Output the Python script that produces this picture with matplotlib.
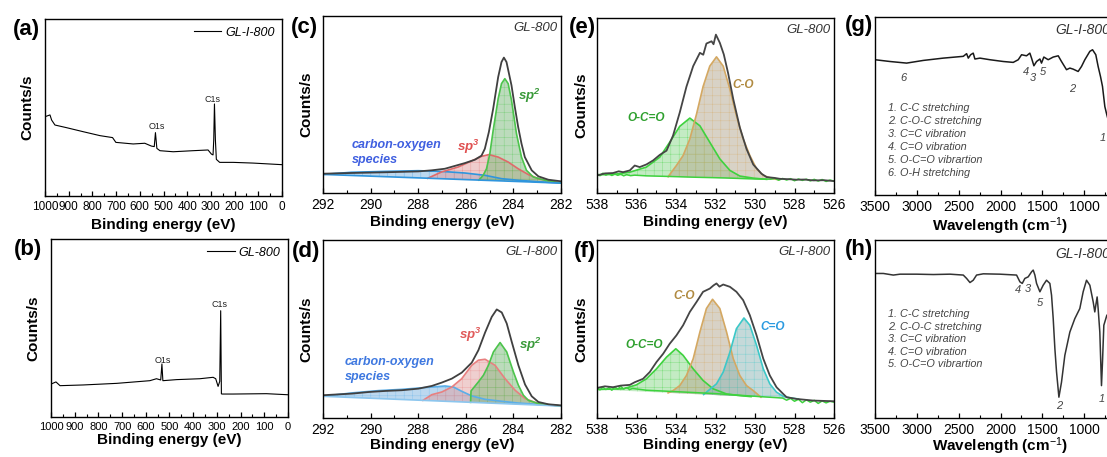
import matplotlib
matplotlib.use('Agg')
import matplotlib.pyplot as plt
from matplotlib.ticker import MultipleLocator

plt.rcParams['font.family'] = ['Liberation Sans', 'DejaVu Sans']
plt.rcParams['mathtext.fontset'] = 'custom'
plt.rcParams['mathtext.rm'] = 'Liberation Sans'
plt.rcParams['mathtext.it'] = 'Liberation Sans:italic'
plt.rcParams['mathtext.bf'] = 'Liberation Sans:bold'
plt.rcParams['mathtext.bfit'] = 'Liberation Sans:italic:bold'
plt.rcParams['hatch.linewidth'] = 0.35

W, H = 1107, 457

# ---------- (a) survey GL-I-800 ----------
a_x = [1000, 979, 972, 958, 909, 838, 768, 715, 701, 628, 579, 551, 539, 534, 528, 515,
       459, 375, 312, 298, 291, 288, 285, 281, 277, 263, 206, 122, 0]
a_y = [44.8, 45.8, 42.9, 40.1, 38.6, 36.3, 34.1, 33.0, 30.3, 29.4, 29.8, 28.2, 27.9, 35.8, 26.9, 25.6,
       25.0, 25.6, 26.0, 23.7, 23.2, 31.6, 52.0, 31.6, 20.7, 19.0, 19.0, 18.6, 17.7]

# ---------- (b) survey GL-800 ----------
b_x = [1000, 979, 962, 864, 723, 583, 555, 537, 532, 528, 470, 372, 316, 305, 295, 288, 284,
       281, 277, 232, 91, 0]
b_y = [18.5, 19.7, 17.6, 18.0, 18.9, 20.4, 21.5, 20.8, 29.8, 20.4, 21.0, 21.5, 22.3, 21.5, 17.2,
       20.0, 59.7, 13.0, 12.9, 12.9, 13.1, 12.5]

# ---------- (c) C1s GL-800 ----------
c_env_x = [292.0, 290.81, 289.41, 288.0, 287.44, 286.88, 286.46, 286.04, 285.62, 285.34, 285.2, 285.03,
           284.85, 284.64, 284.5, 284.4, 284.29, 284.08, 283.94, 283.8, 283.66, 283.52, 283.23, 282.95,
           282.53, 282.0]
c_env_y = [10.9, 11.3, 11.7, 12.2, 12.8, 13.7, 15.3, 16.9, 18.8, 21.1, 25.0, 34.5,
           47.6, 65.5, 74.0, 76.5, 74.0, 60.8, 48.6, 37.3, 27.9, 20.3, 12.8, 9.4,
           7.5, 6.6]
c_sp2_x = [285.45, 285.27, 285.13, 284.99, 284.85, 284.64, 284.5, 284.36, 284.22, 284.08, 283.87,
           283.66, 283.45, 283.16, 282.67, 282.0]
c_sp2_y = [7.3, 10.0, 13.7, 22.2, 35.4, 53.3, 61.8, 64.6, 61.8, 52.4, 33.5, 20.3, 12.8, 9.0, 7.2, 5.6]
c_sp3_x = [287.6, 287.02, 286.32, 285.76, 285.34, 285.03, 284.64, 284.22, 283.8, 283.37, 282.95,
           282.39, 282.0]
c_sp3_y = [8.3, 11.9, 14.7, 18.1, 20.7, 21.7, 20.3, 17.5, 13.7, 10.4, 8.1, 6.6, 5.6]
c_co_x = [292.0, 291.5, 290.81, 289.41, 288.0, 287.02, 286.04, 285.2, 284.5, 283.8, 283.0, 282.0]
c_co_y = [10.5, 11.0, 11.7, 12.2, 12.6, 12.2, 11.3, 10.0, 8.1, 7.2, 6.4, 5.6]
c_base_x = [292.0, 282.0]
c_base_y = [10.5, 5.6]

# ---------- (d) C1s GL-I-800 ----------
d_env_x = [292.0, 290.78, 290.08, 289.38, 288.69, 287.99, 287.43, 287.01, 286.59, 286.17, 285.75,
           285.47, 285.19, 284.91, 284.7, 284.49, 284.28, 284.07, 283.79, 283.51, 283.23, 282.95,
           282.53, 282.0]
d_env_y = [12.8, 13.7, 14.6, 15.2, 15.6, 16.5, 18.0, 19.9, 22.1, 25.5, 31.1,
           38.1, 48.0, 56.8, 61.0, 59.3, 53.1, 42.8, 29.6, 18.8, 12.2, 9.0,
           7.7, 7.1]
d_sp2_x = [285.8, 285.78, 285.47, 285.26, 285.05, 284.84, 284.56, 284.28, 284.0, 283.79, 283.58,
           283.37, 282.95, 282.0]
d_sp2_y = [8.8, 15.2, 20.3, 24.0, 29.6, 37.1, 42.4, 37.1, 25.9, 18.4, 12.8, 9.9, 8.1, 6.75]
d_sp3_x = [287.8, 287.43, 287.01, 286.59, 286.17, 285.75, 285.47, 285.19, 284.77, 284.35, 283.93,
           283.51, 282.95, 282.0]
d_sp3_y = [9.9, 13.1, 14.6, 17.4, 22.1, 29.6, 32.5, 33.0, 29.6, 22.1, 15.6, 10.9, 8.1, 6.75]
d_co_x = [292.0, 290.78, 289.66, 288.69, 287.71, 286.87, 286.52, 286.17, 285.75, 285.19, 284.49,
          283.79, 282.0]
d_co_y = [12.2, 14.1, 15.4, 16.1, 17.1, 18.0, 17.4, 15.0, 12.4, 10.5, 9.4, 8.4, 6.75]
d_base_x = [292.0, 282.0]
d_base_y = [12.2, 6.75]

# ---------- (e) O1s GL-800 ----------
e_env_x = [538.0, 537.6, 537.19, 536.9, 536.68, 536.34, 536.09, 535.84, 535.5, 535.16, 534.82,
           534.48, 534.15, 533.81, 533.47, 533.13, 532.79, 532.62, 532.46, 532.2, 532.1, 531.98,
           531.78, 531.58, 531.36, 531.1, 530.77, 530.43, 530.09, 529.67, 529.41, 529.0, 528.74,
           528.3, 527.89, 527.5, 527.05, 526.5, 526.0]
e_env_y = [10.0, 11.2, 11.4, 12.4, 11.9, 12.9, 15.7, 14.8, 16.3, 18.6, 21.8,
           24.2, 32.8, 46.0, 60.8, 72.5, 80.1, 79.0, 85.4, 86.7, 85.0, 90.5,
           85.8, 79.2, 68.4, 53.6, 37.5, 25.2, 16.3, 11.0, 9.1, 8.6, 8.1,
           7.9, 7.6, 7.7, 7.2, 7.3, 6.8]
e_c_o_x = [534.4, 533.98, 533.64, 533.3, 532.96, 532.63, 532.29, 531.95, 531.61, 531.27, 530.94,
           530.6, 530.26, 529.92, 529.58, 529.08, 528.8]
e_c_o_y = [9.3, 15.7, 21.4, 30.9, 45.1, 60.8, 72.5, 77.8, 72.5, 59.3, 44.1,
           30.9, 21.4, 13.8, 10.0, 8.1, 7.6]
e_oco_x = [538.0, 537.19, 536.34, 535.5, 534.82, 534.32, 533.81, 533.3, 532.79, 532.29, 531.78,
           531.27, 530.77, 530.09, 529.41]
e_oco_y = [10.4, 10.6, 11.9, 14.8, 20.5, 29.0, 38.1, 42.8, 38.4, 29.0, 19.5,
           12.9, 9.7, 8.5, 7.8]
e_bg_x = [538.0, 537.85, 537.7, 537.55, 537.4, 537.25, 537.1, 536.95, 536.8, 536.65, 536.5, 536.3,
          536.1, 535.5, 534.5, 533.0, 531.5, 530.0, 529.2, 529.0, 528.8, 528.6, 528.4, 528.2, 528.0,
          527.8, 527.6, 527.4, 527.2, 527.0, 526.8, 526.6, 526.4, 526.2, 526.0]
e_bg_y = [11.0, 9.9, 11.3, 10.2, 11.1, 10.0, 10.9, 10.1, 10.8, 9.8, 10.5, 9.9,
          10.2, 9.8, 9.5, 9.0, 8.6, 8.0, 7.9, 8.4, 7.3, 8.3, 7.4, 8.2, 7.0,
          8.0, 7.2, 7.9, 6.9, 7.8, 6.8, 7.7, 6.6, 7.4, 6.8]

# ---------- (f) O1s GL-I-800 ----------
f_env_x = [538.0, 537.6, 537.19, 536.8, 536.34, 536.09, 535.67, 535.33, 534.99, 534.65, 534.32,
           533.98, 533.64, 533.3, 532.96, 532.63, 532.29, 532.1, 531.95, 531.8, 531.61, 531.27,
           530.94, 530.6, 530.26, 529.92, 529.58, 529.25, 528.91, 528.57, 528.4, 527.89, 527.05, 526.0]
f_env_y = [16.9, 17.8, 17.3, 18.2, 18.6, 20.1, 22.0, 25.8, 31.4, 36.1, 41.7,
           46.4, 52.1, 59.6, 65.2, 70.9, 72.7, 74.5, 75.6, 73.8, 75.0, 73.7,
           70.9, 66.2, 57.7, 46.4, 33.3, 23.9, 17.3, 13.5, 11.7, 10.7, 9.8, 9.4]
f_c_o_x = [534.4, 534.15, 533.81, 533.47, 533.13, 532.79, 532.46, 532.15, 531.78, 531.44, 531.1,
           530.77, 530.43, 530.09, 529.7]
f_c_o_y = [14.1, 15.4, 18.2, 23.9, 33.3, 48.3, 61.5, 66.7, 61.5, 48.3, 33.3,
           23.9, 18.2, 15.4, 11.7]
f_ceo_x = [532.6, 531.95, 531.61, 531.27, 530.94, 530.56, 530.26, 529.92, 529.58, 529.25, 528.91,
           528.57, 528.23, 527.8]
f_ceo_y = [13.2, 19.2, 25.8, 37.0, 50.2, 56.2, 52.1, 40.8, 27.6, 19.2, 14.5,
           12.2, 11.3, 10.7]
f_oco_x = [538.0, 536.68, 536.01, 535.5, 534.99, 534.48, 534.01, 533.64, 533.13, 532.63, 532.12,
           531.44, 530.77, 530.2]
f_oco_y = [16.0, 16.4, 18.6, 22.0, 27.6, 34.2, 38.9, 35.2, 27.6, 21.1, 16.4,
           13.5, 12.6, 12.0]
f_bg_x = [538.0, 537.85, 537.7, 537.55, 537.4, 537.25, 537.1, 536.95, 536.8, 536.65, 536.5, 536.35,
          536.2, 535.5, 534.0, 532.0, 530.0, 528.6, 528.4, 528.2, 528.0, 527.8, 527.6, 527.4, 527.2,
          527.0, 526.8, 526.6, 526.4, 526.2, 526.0]
f_bg_y = [16.9, 15.8, 17.3, 16.0, 17.0, 15.6, 17.4, 16.2, 17.8, 16.3, 17.1, 16.0,
          16.6, 15.6, 14.8, 13.7, 12.2, 11.2, 10.0, 11.0, 9.4, 10.5, 8.6, 10.2, 8.9,
          9.9, 8.2, 9.6, 8.5, 9.4, 8.9]

# ---------- (g) FTIR GL-I-800 ----------
g_x = [3500, 3321, 3122, 2923, 2684, 2445, 2405, 2385, 2357, 2326, 2306, 2246, 2127, 1967, 1848,
       1788, 1748, 1689, 1649, 1629, 1601, 1569, 1529, 1510, 1482, 1430, 1370, 1310, 1271, 1211,
       1171, 1131, 1072, 1032, 992, 932, 900, 861, 833, 805, 781, 753, 729, 700, 650, 600, 550]
g_y = [76.0, 75.0, 74.1, 75.6, 76.9, 77.9, 79.4, 76.9, 78.8, 79.7, 76.4, 76.9, 76.0, 75.0, 74.5,
       76.0, 78.8, 78.2, 79.7, 76.9, 72.6, 75.0, 76.4, 74.1, 77.5, 76.0, 77.5, 78.2, 75.0, 70.4,
       71.3, 70.7, 69.4, 72.2, 76.0, 80.7, 81.6, 78.8, 72.2, 66.6, 61.0, 49.7, 45.0, 40.0, 34.0,
       30.0, 28.0]

# ---------- (h) FTIR GL-800 ----------
h_x = [3500, 3400, 3281, 3201, 3002, 2803, 2604, 2445, 2405, 2365, 2326, 2286, 2206, 2007, 1808,
       1768, 1740, 1709, 1669, 1629, 1609, 1589, 1569, 1529, 1490, 1450, 1410, 1390, 1370, 1350,
       1330, 1302, 1271, 1231, 1171, 1112, 1052, 1012, 972, 932, 892, 873, 861, 845, 833, 813,
       793, 781, 765, 729, 700, 650, 600, 550]
h_y = [81.2, 81.2, 80.3, 80.8, 80.8, 80.6, 80.8, 80.3, 78.4, 76.1, 77.4, 80.3, 81.0, 80.8, 80.3,
       76.5, 75.6, 78.4, 79.3, 82.1, 83.1, 80.3, 75.6, 70.9, 74.6, 77.4, 75.6, 69.0, 55.8, 38.9,
       25.8, 11.7, 20.1, 35.2, 48.3, 55.8, 61.5, 70.9, 77.4, 74.6, 65.2, 59.6, 63.3, 68.0, 61.5, 48.3,
       18.2, 31.4, 52.1, 57.7, 59.0, 60.0, 60.0, 60.0]

g_notes = ['1. C-C stretching', '2. C-O-C stretching', '3. C=C vibration',
           '4. C=O vibration', '5. O-C=O vibrartion', '6. O-H stretching']
h_notes = g_notes[:5]
g_marks = [('6', 3154, 65.7), ('4', 1689, 68.9), ('3', 1617, 65.7), ('5', 1498, 68.9),
           ('2', 1139, 59.5), ('1', 773, 31.9)]
h_marks = [('4', 1788, 71.8), ('3', 1677, 72.2), ('5', 1529, 64.8), ('2', 1298, 7.0),
           ('1', 785, 10.7)]

fig = plt.figure(figsize=(W / 100, H / 100), dpi=100)


def add_ax(l, t, r, b):
    return fig.add_axes([l / W, 1 - b / H, (r - l) / W, (b - t) / H])


def style(ax, xlim, major, minor, xlabel, ylabel=True, pad=7, size=10, lpad=0.5):
    ax.set_xlim(*xlim)
    ax.set_ylim(0, 100)
    ax.set_yticks([])
    ax.xaxis.set_major_locator(MultipleLocator(major))
    ax.xaxis.set_minor_locator(MultipleLocator(minor))
    ax.tick_params(axis='x', which='both', direction='in', labelsize=size, pad=3.5)
    ax.tick_params(axis='x', which='major', length=3.5, width=0.9)
    ax.tick_params(axis='x', which='minor', length=2, width=0.8)
    for s in ax.spines.values():
        s.set_linewidth(1.0)
    ax.set_xlabel(xlabel, fontsize=11, fontweight='bold', labelpad=lpad)
    if ylabel:
        ax.set_ylabel('Counts/s', fontsize=11, fontweight='bold', labelpad=pad)


def comp(ax, x, y, line, face, alpha=0.5):
    ax.fill(x, y, facecolor=face, edgecolor=line, hatch='++', linewidth=0, alpha=alpha)
    ax.plot(x, y, color=line, lw=1.2)


def corner(ax, s, x=0.985):
    ax.text(x, 0.93, s, transform=ax.transAxes, ha='right', va='center',
            fontsize=9.5, style='italic', color='#333333')


# (a)
ax = add_ax(45, 19, 282, 196)
ax.plot(a_x, a_y, color='k', lw=0.8, label='GL-I-800')
ax.text(529, 39, 'O1s', fontsize=6.5, ha='center', va='center', color='#222222')
ax.text(295, 54.8, 'C1s', fontsize=6.5, ha='center', va='center', color='#222222')
style(ax, (1000, 0), 100, 50, 'Binding energy (eV)', pad=8, size=8.5, lpad=3.5)
ax.legend(loc='upper right', frameon=False, prop={'style': 'italic', 'size': 9},
          handlelength=2.2, borderaxespad=0.2, handletextpad=0.3)

# (b)
ax = add_ax(51, 239, 288, 417)
ax.plot(b_x, b_y, color='k', lw=0.8, label='GL-800')
ax.text(530, 32, 'O1s', fontsize=6.5, ha='center', va='center', color='#222222')
ax.text(288, 63.1, 'C1s', fontsize=6.5, ha='center', va='center', color='#222222')
style(ax, (1000, 0), 100, 50, 'Binding energy (eV)', pad=8, size=8)
ax.legend(loc='upper right', frameon=False, prop={'style': 'italic', 'size': 9},
          handlelength=2.2, borderaxespad=0.2, handletextpad=0.3)

# (c)
ax = add_ax(323, 16, 561, 193)
comp(ax, c_co_x, c_co_y, '#2f95dd', '#7ab3e0')
comp(ax, c_sp3_x, c_sp3_y, '#e06a6a', '#e09a9a')
comp(ax, c_sp2_x, c_sp2_y, '#4cc44c', '#7ab87a')
ax.plot(c_base_x, c_base_y, color='#2f95dd', lw=1.2)
ax.plot(c_env_x, c_env_y, color='#404040', lw=1.3)
ax.text(283.35, 55, 'sp$^{\\mathbfit{2}}$', color='#3a9a3a', fontsize=9.5, fontweight='bold',
        style='italic', ha='center', va='center')
ax.text(285.9, 26, 'sp$^{\\mathbfit{3}}$', color='#e05050', fontsize=9.5, fontweight='bold',
        style='italic', ha='center', va='center')
ax.text(290.8, 22.9, 'carbon-oxygen\nspecies', color='#3f5fe0', fontsize=9, fontweight='bold',
        style='italic', ha='left', va='center', linespacing=1.3)
corner(ax, 'GL-800')
style(ax, (292, 282), 2, 1, 'Binding energy (eV)', pad=7, lpad=2)

# (d)
ax = add_ax(323, 240, 561, 418)
comp(ax, d_co_x, d_co_y, '#5aaee8', '#7ab3e0')
comp(ax, d_sp3_x, d_sp3_y, '#e88080', '#e0a0a0')
comp(ax, d_sp2_x, d_sp2_y, '#4cc44c', '#7ab87a')
ax.plot(d_base_x, d_base_y, color='#8cc6ee', lw=1.2)
ax.plot(d_env_x, d_env_y, color='#404040', lw=1.3)
ax.text(283.3, 41, 'sp$^{\\mathbfit{2}}$', color='#3a9a3a', fontsize=9.5, fontweight='bold',
        style='italic', ha='center', va='center')
ax.text(285.8, 46.5, 'sp$^{\\mathbfit{3}}$', color='#e05a5a', fontsize=9.5, fontweight='bold',
        style='italic', ha='center', va='center')
ax.text(291.1, 27.3, 'carbon-oxygen\nspecies', color='#3e78e0', fontsize=9, fontweight='bold',
        style='italic', ha='left', va='center', linespacing=1.3)
corner(ax, 'GL-I-800')
style(ax, (292, 282), 2, 1, 'Binding energy (eV)', pad=7)

# (e)
ax = add_ax(597, 18, 834, 193)
comp(ax, e_oco_x, e_oco_y, '#3ed23e', '#8ad88a')
comp(ax, e_c_o_x, e_c_o_y, '#d4a862', '#b3a68e')
ax.plot(e_bg_x, e_bg_y, color='#3ed23e', lw=1.1)
ax.plot(e_env_x, e_env_y, color='#454545', lw=1.3)
ax.text(530.6, 62, 'C-O', color='#b08a40', fontsize=8.5, fontweight='bold', style='italic',
        ha='center', va='center')
ax.text(535.5, 43, 'O-C=O', color='#2ea02e', fontsize=8.5, fontweight='bold', style='italic',
        ha='center', va='center')
corner(ax, 'GL-800')
style(ax, (538, 526), 2, 1, 'Binding energy (eV)', pad=6, lpad=2)

# (f)
ax = add_ax(597, 240, 834, 418)
comp(ax, f_oco_x, f_oco_y, '#3ed23e', '#8ad88a')
comp(ax, f_c_o_x, f_c_o_y, '#d4a862', '#b3a68e')
comp(ax, f_ceo_x, f_ceo_y, '#3cc8c8', '#8cb4b4')
ax.plot(f_bg_x, f_bg_y, color='#3ed23e', lw=1.1)
ax.plot(f_env_x, f_env_y, color='#454545', lw=1.3)
ax.text(533.6, 68.5, 'C-O', color='#b08a40', fontsize=8.5, fontweight='bold', style='italic',
        ha='center', va='center')
ax.text(529.1, 51, 'C=O', color='#2a9ae0', fontsize=8.5, fontweight='bold', style='italic',
        ha='center', va='center')
ax.text(535.6, 41, 'O-C=O', color='#2ea02e', fontsize=8.5, fontweight='bold', style='italic',
        ha='center', va='center')
corner(ax, 'GL-I-800')
style(ax, (538, 526), 2, 1, 'Binding energy (eV)', pad=6)

# (g)
ax = add_ax(875, 17, 1126, 195)
ax.plot(g_x, g_y, color='#1a1a1a', lw=1.1)
for s, x, y in g_marks:
    ax.text(x, y, s, fontsize=8, style='italic', color='#444444', ha='center', va='center')
for i, s in enumerate(g_notes):
    ax.text(0.052, 0.487 - i * 0.0725, s, transform=ax.transAxes, fontsize=7.8, style='italic',
            color='#444444', ha='left', va='center')
ax.text(0.717, 0.927, 'GL-I-800', transform=ax.transAxes, ha='left', va='center',
        fontsize=10, style='italic', color='#333333')
style(ax, (3500, 500), 500, 250, 'Wavelength (cm$^{-1}$)', ylabel=False, lpad=1)

# (h)
ax = add_ax(875, 240, 1126, 418)
ax.plot(h_x, h_y, color='#333333', lw=1.1)
for s, x, y in h_marks:
    ax.text(x, y, s, fontsize=8, style='italic', color='#444444', ha='center', va='center')
for i, s in enumerate(h_notes):
    ax.text(0.052, 0.583 - i * 0.0705, s, transform=ax.transAxes, fontsize=7.8, style='italic',
            color='#444444', ha='left', va='center')
ax.text(0.717, 0.92, 'GL-I-800', transform=ax.transAxes, ha='left', va='center',
        fontsize=10, style='italic', color='#333333')
style(ax, (3500, 500), 500, 250, 'Wavelength (cm$^{-1}$)', ylabel=False, lpad=-1)

# panel letters
for s, x, y in [('(a)', 40, 29), ('(b)', 42, 250), ('(c)', 318, 27), ('(d)', 320, 251),
                ('(e)', 596, 27), ('(f)', 596, 251), ('(g)', 873, 26), ('(h)', 873, 250)]:
    fig.text(x / W, 1 - y / H, s, fontsize=16, fontweight='bold', ha='right', va='center')

fig.savefig('out.png', dpi=100)
